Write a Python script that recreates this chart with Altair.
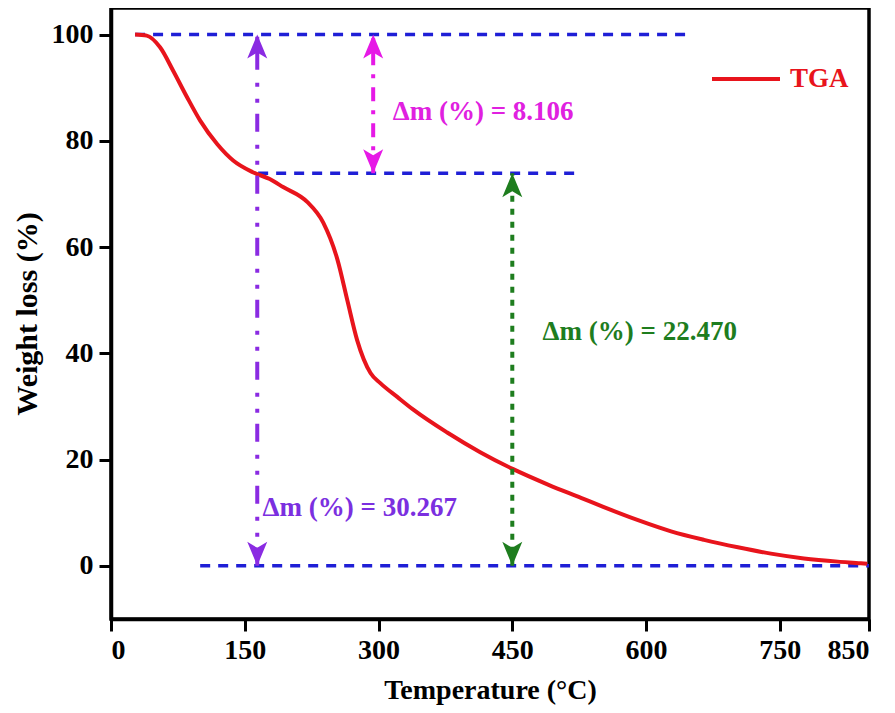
import altair as alt
import pandas as pd

# TGA curve
temps = [27, 40, 55, 70, 85, 100, 119, 137, 159, 178, 193, 220, 238, 254, 265, 276,
         291, 302, 321, 339, 377, 414, 451, 490, 527, 552, 591, 628, 665, 703, 740,
         777, 815, 841, 848]
weights = [100, 99.8, 97.6, 93.1, 88.3, 83.8, 79.4, 76.3, 74.1, 72.8, 71.3, 68.5, 64.6,
           57.6, 50.0, 42.5, 36.3, 34.4, 31.8, 29.4, 25.1, 21.4, 18.2, 15.3, 12.8, 11.1,
           8.6, 6.5, 4.9, 3.5, 2.3, 1.4, 0.8, 0.5, 0.4]
series = ["TGA"] * len(temps)

# horizontal dashed reference lines
h_x1 = [27, 165, 100]
h_x2 = [650, 524, 850]
h_y = [100, 73.9, 0]

# vertical double arrows
v_x = [164, 294, 450]
v_lo = [0, 73.9, 0]
v_hi = [100, 100, 73.9]
v_color = ["#8a2be2", "#e619e6", "#1e7d1e"]

# annotation texts
ann_text = ["Δm (%) = 8.106", "Δm (%) = 22.470", "Δm (%) = 30.267"]
ann_x = [316, 484, 170]
ann_y = [85.4, 44, 10.9]
ann_color = ["#e020e0", "#1e7d1e", "#7b2fe0"]

x_ticks = [0, 150, 300, 450, 600, 750, 850]
y_ticks = [0, 20, 40, 60, 80, 100]

FONT = "Liberation Serif"
RED = "#e8141c"
BLUE = "#1f1fd6"

curve_df = pd.DataFrame({"Temperature": temps, "Weight": weights, "series": series})
h_df = pd.DataFrame({"x": h_x1, "x2": h_x2, "y": h_y})

xs = alt.Scale(domain=[0, 850], nice=False, zero=False)
ys = alt.Scale(domain=[-10, 105], nice=False, zero=False)
xa = alt.Axis(values=x_ticks, title="Temperature (°C)", titlePadding=12, labelPadding=5)
ya = alt.Axis(values=y_ticks, title="Weight loss (%)", titlePadding=9, labelPadding=6,
              titleFontSize=30)


def X(f):
    return alt.X(f, scale=xs, axis=xa)


def Y(f):
    return alt.Y(f, scale=ys, axis=ya)


curve = alt.Chart(curve_df).mark_line(strokeWidth=4, interpolate="monotone").encode(
    x=X("Temperature:Q"),
    y=Y("Weight:Q"),
    color=alt.Color("series:N",
                    scale=alt.Scale(domain=["TGA"], range=[RED]),
                    legend=alt.Legend(orient="none", legendX=599, legendY=35,
                                      title=None, symbolType="stroke",
                                      symbolSize=4624, symbolStrokeWidth=4,
                                      labelFont=FONT, labelFontSize=27,
                                      labelFontWeight="bold", labelColor=RED,
                                      labelOffset=8, padding=0)),
)

hlines = alt.Chart(h_df).mark_rule(strokeDash=[10, 8], strokeWidth=3.5, color=BLUE).encode(
    x=X("x:Q"), x2="x2:Q", y=Y("y:Q"),
)

dashes = [[18, 11, 4, 12, 4, 13], [14, 9, 4, 9], [6, 7]]
UP = "M0,0 L1,2.4 L0,1.8 L-1,2.4 Z"
DOWN = "M0,0 L1,-2.4 L0,-1.8 L-1,-2.4 Z"

layers = [hlines, curve]
for i in range(3):
    d = pd.DataFrame({"x": [v_x[i]], "lo": [v_lo[i]], "hi": [v_hi[i]]})
    base = alt.Chart(d)
    rule = base.mark_rule(strokeDash=dashes[i], strokeWidth=4, color=v_color[i]).encode(
        x=X("x:Q"), y=Y("lo:Q"), y2="hi:Q",
    )
    up = base.mark_point(shape=UP, size=400, filled=True, opacity=1,
                         color=v_color[i]).encode(x=X("x:Q"), y=Y("hi:Q"))
    down = base.mark_point(shape=DOWN, size=400, filled=True, opacity=1,
                           color=v_color[i]).encode(x=X("x:Q"), y=Y("lo:Q"))
    layers += [rule, up, down]

for i in range(3):
    t = pd.DataFrame({"x": [ann_x[i]], "y": [ann_y[i]], "label": [ann_text[i]]})
    layers.append(
        alt.Chart(t).mark_text(align="left", baseline="middle", font=FONT,
                               fontSize=27, fontWeight="bold",
                               color=ann_color[i]).encode(
            x=X("x:Q"), y=Y("y:Q"), text="label:N",
        )
    )

chart = alt.layer(*layers).properties(
    width=758, height=611,
    autosize=alt.AutoSizeParams(type="none"),
    padding={"left": 103, "top": 0, "right": 18, "bottom": 94},
    background="white",
).configure_view(
    stroke="black", strokeWidth=3.5
).configure_axis(
    grid=False, domainColor="black", domainWidth=3.5,
    tickColor="black", tickWidth=3, tickSize=12,
    labelFont=FONT, labelFontSize=28, labelFontWeight="bold", labelColor="black",
    titleFont=FONT, titleFontSize=28, titleFontWeight="bold", titleColor="black",
)

chart.save("out.html", embed_options={"renderer": "svg", "actions": False})
